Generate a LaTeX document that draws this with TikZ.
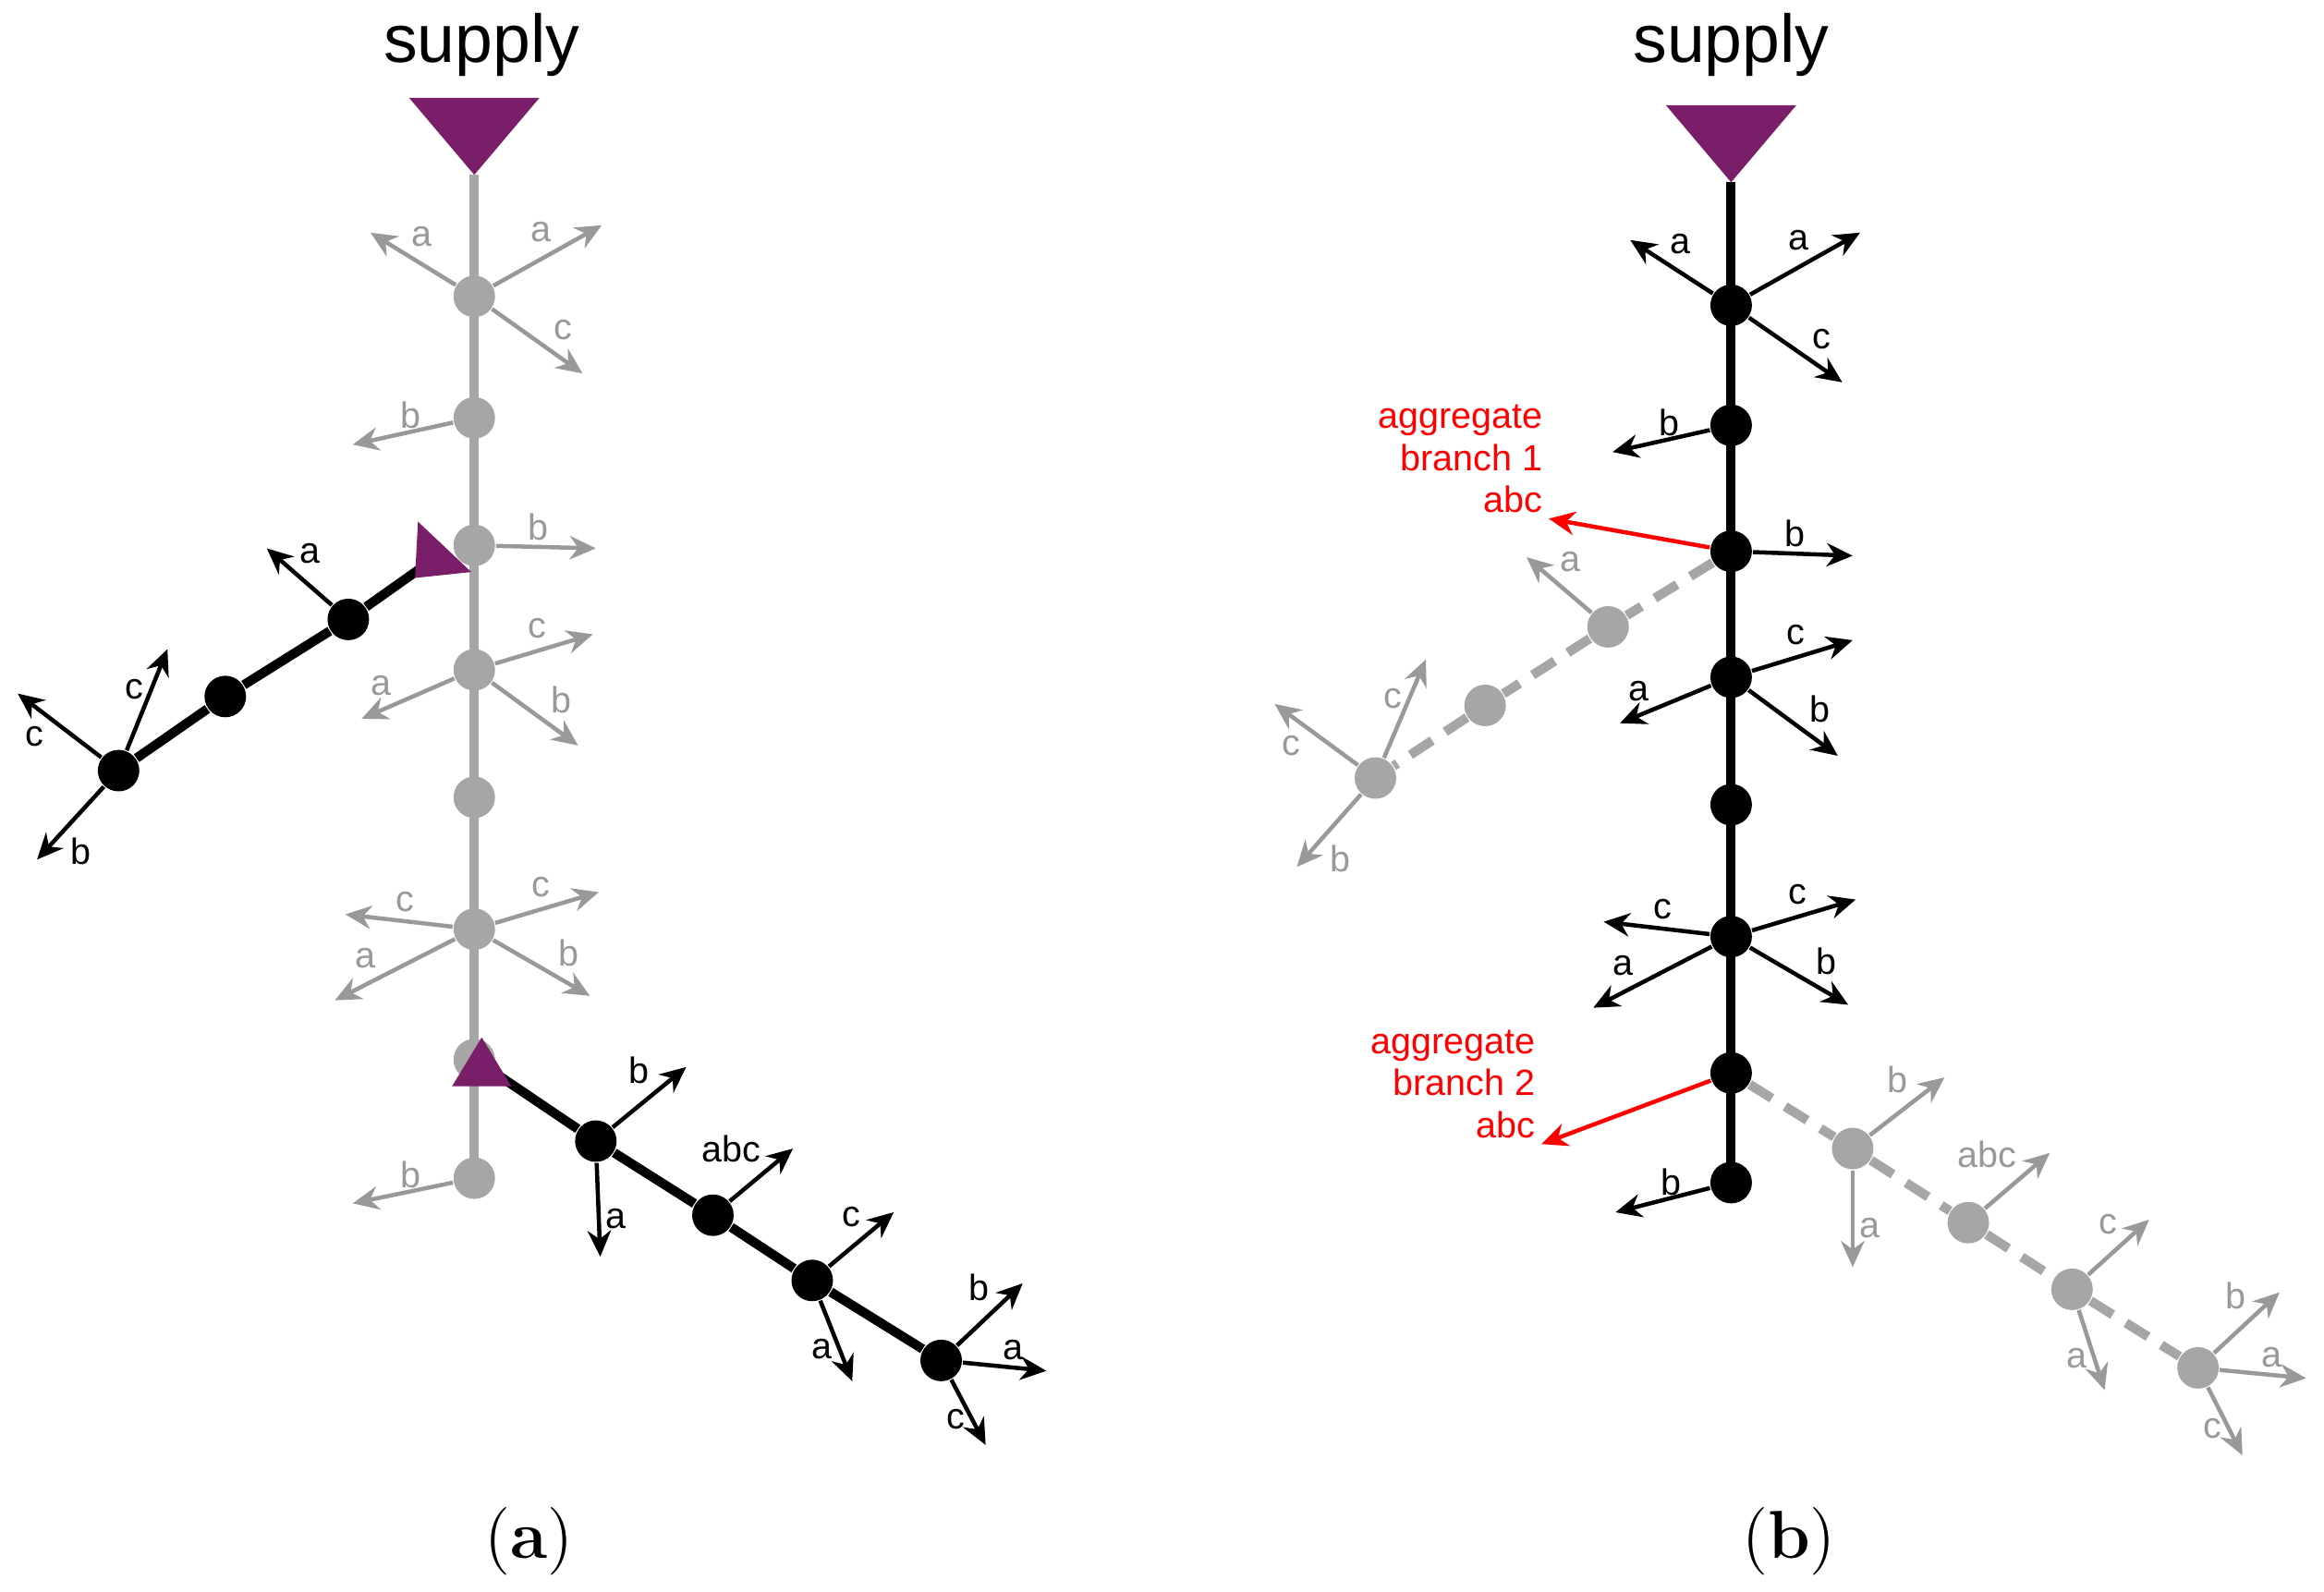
\documentclass[tikz,border=0pt]{standalone}
\usepackage{fontspec}
\setmainfont{Liberation Sans}
\usepackage{tikz}
\usetikzlibrary{arrows.meta}
\newfontfamily\serifbold{Latin Modern Roman}
\definecolor{supplyvio}{RGB}{122,30,106}

\begin{document}
\begin{tikzpicture}[x=0.01cm,y=-0.01cm,
  solmu/.style={circle,fill=#1,inner sep=0pt,minimum size=0.28cm},
  nuoli/.style={draw=#1,line width=0.8pt,-{Stealth[length=5pt,width=4.5pt]}},
  lbl/.style={font=\fontsize{7}{8}\selectfont,inner sep=1pt}]
\useasboundingbox (0,0) rectangle (1568,1074);
\newcommand\nuoli[5]{
\coordinate (#2x) at (#3);
\path[nuoli=#1] (#2) -- node[lbl,text=#1,pos=0.6,#5] {#4} (#2x);
}
% (a)
\node[font=\fontsize{13}{15}\selectfont] (sa) at (325,30) {supply};
\fill[supplyvio] (276,66) -- (364,66) -- (320,118) -- cycle;
\coordinate (ta) at (320,118);
\coordinate (tb) at (320,795);
\path[draw,gray!70,line width=1.8pt] (ta) -- (tb);
\foreach \y [count=\i] in {200,282,368,452,538,627,715,795}
  \node[solmu=gray!70] (g\i) at (320,\y) {};
\nuoli{gray!80}{g1}{250,157}{a}{above right}
\nuoli{gray!80}{g1}{406,152}{a}{above left}
\nuoli{gray!80}{g1}{393,252}{c}{above right}
\nuoli{gray!80}{g2}{238,300}{b}{above right}
\nuoli{gray!80}{g3}{402,370}{b}{above left}
\nuoli{gray!80}{g4}{400,428}{c}{above left}
\nuoli{gray!80}{g4}{244,485}{a}{above left}
\nuoli{gray!80}{g4}{390,503}{b}{above right}
\nuoli{gray!80}{g6}{233,617}{c}{above right}
\nuoli{gray!80}{g6}{404,602}{c}{above left}
\nuoli{gray!80}{g6}{226,675}{a}{above left}
\nuoli{gray!80}{g6}{398,672}{b}{above right}
\nuoli{gray!80}{g8}{238,812}{b}{above right}
% branch 1
\coordinate (h1) at (300,372);
\node[solmu=black] (p1) at (235,418) {};
\node[solmu=black] (p2) at (152,470) {};
\node[solmu=black] (p3) at (80,520) {};
\path[draw,line width=1.8pt] (h1) -- (p1) -- (p2) -- (p3);
\fill[supplyvio] (282,352) -- (318,386) -- (280,390) -- cycle;
\nuoli{black}{p1}{180,370}{a}{above right}
\nuoli{black}{p3}{12,468}{c}{below left}
\nuoli{black}{p3}{113,438}{c}{left}
\nuoli{black}{p3}{25,580}{b}{below right}
% branch 2
\coordinate (h2) at (325,718);
\node[solmu=black] (q1) at (402,770) {};
\node[solmu=black] (q2) at (481,820) {};
\node[solmu=black] (q3) at (548,864) {};
\node[solmu=black] (q4) at (635,918) {};
\path[draw,line width=1.8pt] (h2) -- (q1) -- (q2) -- (q3) -- (q4);
\fill[supplyvio] (325,700) -- (345,733) -- (305,733) -- cycle;
\nuoli{black}{q1}{463,720}{b}{above left}
\nuoli{black}{q1}{405,848}{a}{right}
\nuoli{black}{q2}{535,775}{abc}{above left}
\nuoli{black}{q3}{603,818}{c}{above left}
\nuoli{black}{q3}{575,932}{a}{left}
\nuoli{black}{q4}{690,866}{b}{above left}
\nuoli{black}{q4}{706,925}{a}{above}
\nuoli{black}{q4}{665,975}{c}{left}
\node[font=\serifbold\fontsize{13}{15}\selectfont] (la) at (357,1040) {(\textbf{a})};
% (b)
\node[font=\fontsize{13}{15}\selectfont] (sb) at (1168,30) {supply};
\fill[supplyvio] (1124,71) -- (1212,71) -- (1168,123) -- cycle;
\coordinate (tc) at (1168,123);
\coordinate (td) at (1168,798);
\path[draw,line width=1.8pt] (tc) -- (td);
\foreach \y [count=\i] in {206,287,372,457,543,632,724,798}
  \node[solmu=black] (k\i) at (1168,\y) {};
% gray dashed branches
\node[solmu=gray!70] (r1) at (1085,423) {};
\node[solmu=gray!70] (r2) at (1002,476) {};
\node[solmu=gray!70] (r3) at (928,525) {};
\path[draw,gray!70,line width=1.8pt,dash pattern=on 5pt off 3pt] (k3) -- (r1) -- (r2) -- (r3);
\node[solmu=gray!70] (s1) at (1250,775) {};
\node[solmu=gray!70] (s2) at (1328,825) {};
\node[solmu=gray!70] (s3) at (1398,870) {};
\node[solmu=gray!70] (s4) at (1483,923) {};
\path[draw,gray!70,line width=1.8pt,dash pattern=on 5pt off 3pt] (k7) -- (s1) -- (s2) -- (s3) -- (s4);
\nuoli{black}{k1}{1100,162}{a}{above right}
\nuoli{black}{k1}{1255,157}{a}{above left}
\nuoli{black}{k1}{1243,258}{c}{above right}
\nuoli{black}{k2}{1088,305}{b}{above right}
\nuoli{black}{k3}{1250,375}{b}{above left}
\nuoli{black}{k4}{1250,432}{c}{above left}
\nuoli{black}{k4}{1093,488}{a}{above left}
\nuoli{black}{k4}{1240,510}{b}{above right}
\nuoli{black}{k6}{1082,622}{c}{above right}
\nuoli{black}{k6}{1252,607}{c}{above left}
\nuoli{black}{k6}{1075,680}{a}{above left}
\nuoli{black}{k6}{1247,678}{b}{above right}
\nuoli{black}{k8}{1090,818}{b}{above right}
\nuoli{gray!80}{r1}{1030,376}{a}{above right}
\nuoli{gray!80}{r3}{860,475}{c}{below left}
\nuoli{gray!80}{r3}{962,445}{c}{left}
\nuoli{gray!80}{r3}{875,585}{b}{below right}
\nuoli{gray!80}{s1}{1312,727}{b}{above left}
\nuoli{gray!80}{s1}{1250,855}{a}{right}
\nuoli{gray!80}{s2}{1383,778}{abc}{above left}
\nuoli{gray!80}{s3}{1450,823}{c}{above left}
\nuoli{gray!80}{s3}{1420,938}{a}{left}
\nuoli{gray!80}{s4}{1538,872}{b}{above left}
\nuoli{gray!80}{s4}{1556,930}{a}{above}
\nuoli{gray!80}{s4}{1513,982}{c}{left}
% aggregates
\node[lbl,text=red,align=right,anchor=south east] (ag1) at (1045,350) {aggregate\\branch 1\\abc};
\path[nuoli=red] (k3) -- (ag1.south east);
\node[lbl,text=red,align=right,anchor=south east] (ag2) at (1040,772) {aggregate\\branch 2\\abc};
\path[nuoli=red] (k7) -- (ag2.south east);
\node[font=\serifbold\fontsize{13}{15}\selectfont] (lb) at (1207,1040) {(\textbf{b})};
\end{tikzpicture}
\end{document}
